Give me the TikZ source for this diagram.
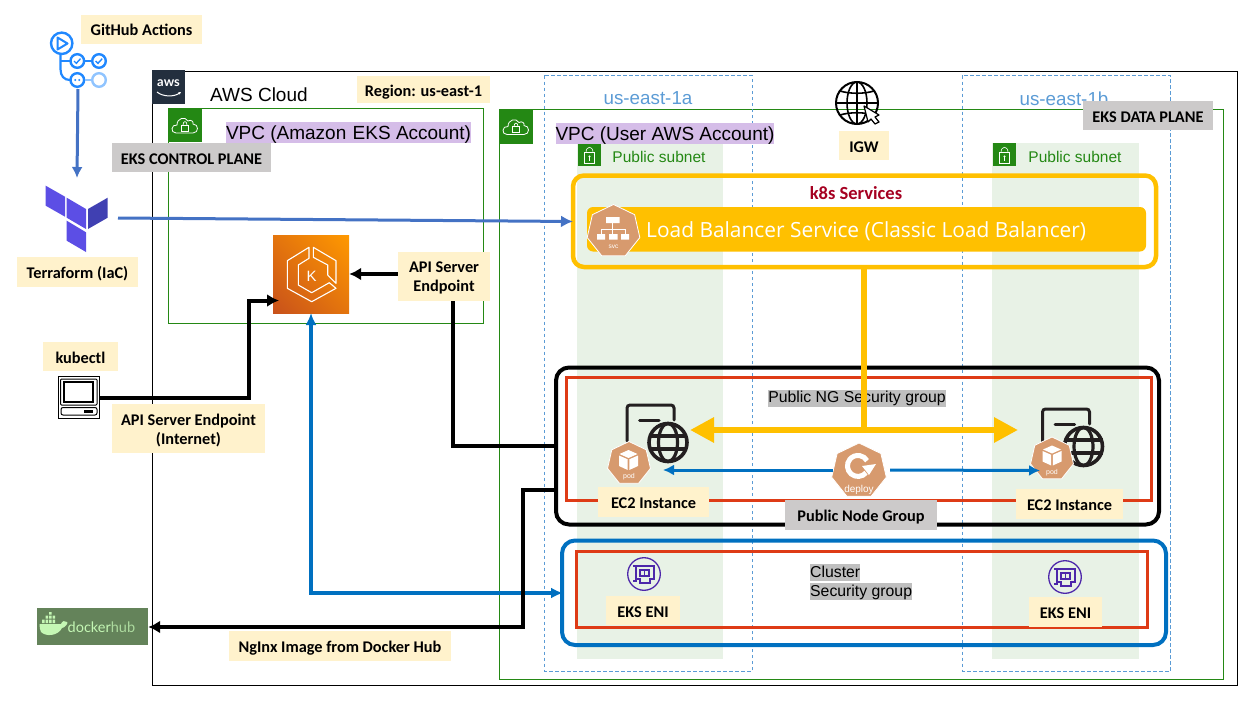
\documentclass[tikz,border=0pt]{standalone}
\usepackage{fontspec}
\setmainfont{Liberation Sans}
\newfontfamily\calfont{Carlito}
\newfontfamily\opfont{Open Sans}
\newfontfamily\latofont{Lato}
\usetikzlibrary{arrows.meta,shapes.geometric,shadings}
\definecolor{labcream}{HTML}{FFF2CC}
\definecolor{labgrey}{HTML}{CCCACA}
\definecolor{awsgreen}{HTML}{248814}
\definecolor{subfill}{HTML}{E8F2E6}
\definecolor{azblue}{HTML}{5B9BD5}
\definecolor{yel}{HTML}{FFC000}
\definecolor{mblue}{HTML}{0070C0}
\definecolor{tblue}{HTML}{4472C4}
\definecolor{redb}{HTML}{DE3B16}
\definecolor{k8}{HTML}{D79A6E}
\definecolor{vpcpurple}{HTML}{D5BDE8}
\definecolor{hlgrey}{HTML}{BFBFBF}
\definecolor{dark}{HTML}{231F20}
\definecolor{gha}{HTML}{2088FF}
\definecolor{eni}{HTML}{4D27AA}
\definecolor{dockbg}{HTML}{64835A}
\definecolor{dockfg}{HTML}{C4F7B4}
\definecolor{awsnavy}{HTML}{232F3E}
\definecolor{k8red}{HTML}{A50021}
\definecolor{tfa}{HTML}{5C4EE5}
\definecolor{tfb}{HTML}{4040B2}
\definecolor{eksll}{HTML}{C8511B}
\definecolor{eksur}{HTML}{FF9900}
\definecolor{eksmid}{HTML}{E4750D}
\tikzset{
  labbase/.style={fill=labcream,inner sep=0pt,align=center,font=\calfont\bfseries\fontsize{16.3}{19}\selectfont,text=black},
  lab/.style={labbase,text height=16.5pt,text depth=3.5pt},
  glab/.style={lab,fill=labgrey},
  vpcframe/.style={draw=awsgreen,line width=1pt},
  azbox/.style={draw=azblue,line width=.9pt,dash pattern=on 3.5pt off 2.5pt},
  az/.style={font=\fontsize{18.8}{21}\selectfont,text=azblue,inner sep=0pt},
  pubtxt/.style={font=\fontsize{15.5}{18}\selectfont,text=awsgreen,inner sep=0pt},
  vpctxt/.style={fill=vpcpurple,inner sep=0pt,font=\fontsize{19}{21}\selectfont,minimum height=21pt,text height=17.5pt,text depth=3.5pt},
  sgtxt/.style={fill=hlgrey,inner sep=0pt,font=\fontsize{15.8}{17}\selectfont,minimum height=17pt,text height=13pt,text depth=3.5pt},
  hept/.style={regular polygon,regular polygon sides=7,fill=k8,draw=white,line width=.8pt,inner sep=0pt},
  blk/.style={draw=black,line width=4pt,-{Latex[length=12pt,width=13pt]}},
  blu/.style={draw=mblue,line width=3.6pt},
  yl/.style={draw=yel,line width=6.5pt},
  cloudicon/.pic={
    \fill[awsgreen] (0,0) rectangle (34,34);
    \draw[white,line width=.8pt] (8,25) .. controls (2,25) and (3,16) .. (9,17)
      .. controls (9,10) and (17,8) .. (20,13) .. controls (23,11) and (26,14) .. (25,16)
      .. controls (31,16) and (31,25) .. (25,25) -- cycle;
    \draw[white,line width=.7pt] (13.5,17) rectangle (20.5,23);
    \draw[white,line width=.7pt] (15,17) .. controls (15,12.5) and (19,12.5) .. (19,17);
  },
  lockicon/.pic={
    \fill[awsgreen] (0,0) rectangle (23,23);
    \draw[white,line width=.6pt] (6.5,9.5) rectangle (16.5,20);
    \draw[white,line width=.6pt] (8,9.5) .. controls (8,2.5) and (15,2.5) .. (15,9.5);
    \fill[white] (11.5,13.5) circle (1.2);
    \draw[white,line width=.6pt] (11.5,14) -- (11.5,17.5);
  },
  insticon/.pic={
    \draw[dark,line width=3pt,rounded corners=3pt,line cap=round] (0,36) -- (0,0) -- (47,0) -- (47,15);
    \draw[dark,line width=3pt,line cap=round] (12.5,15) -- (32,15);
    \draw[dark,line width=3.6pt] (41,37.5) circle (19);
    \draw[dark,line width=3.2pt] (41,37.5) ellipse (9.5 and 19);
    \draw[dark,line width=3.2pt] (22,31) -- (60,31) (22,44) -- (60,44);
  },
  podcube/.pic={
    \fill[white] (0,-10.5) -- (9,-6.5) -- (0,-2.5) -- (-9,-6.5) -- cycle;
    \fill[white] (-9.5,-5) -- (-.8,-1.2) -- (-.8,9.5) -- (-9.5,5.5) -- cycle;
    \fill[white] (9.5,-5) -- (.8,-1.2) -- (.8,9.5) -- (9.5,5.5) -- cycle;
  },
  eniicon/.pic={
    \draw[eni,line width=1.3pt] (0,0) circle (16.3);
    \draw[eni,line width=1.1pt] (-11,-8) -- (-8,-8) -- (-8,7) -- (-11,7);
    \draw[eni,line width=1.1pt] (-8,-8) -- (10,-8) -- (10,5) -- (6,5) -- (6,9) -- (-4,9) -- (-4,5) -- (-8,5);
    \draw[eni,line width=1.1pt] (-4,-4) rectangle (5,2);
    \draw[eni,line width=1.1pt] (.5,-4) -- (.5,2);
  }
}
\begin{document}
\begin{tikzpicture}[x=1pt,y=-1pt]
\useasboundingbox (0,0) rectangle (1258,701);
% frames
\draw[black,line width=1pt] (152.5,71.5) rectangle (1237,685);
\fill[subfill] (577,143) rectangle (723,659);
\fill[subfill] (992,143) rectangle (1139,659);
\draw[vpcframe] (168.5,108.5) rectangle (483,323);
\draw[vpcframe] (499.5,109.5) rectangle (1223,679);
\draw[azbox] (544.5,75.5) rectangle (752,671);
\draw[azbox] (962.5,75.5) rectangle (1170.5,671);
% aws logo
\node[fill=awsnavy,minimum width=33pt,minimum height=34pt,inner sep=0pt] (awslogo) at (168.5,87) {};
\node[text=white,font=\latofont\bfseries\fontsize{13}{13}\selectfont,inner sep=0pt] (awstxt) at (168.5,83.5) {aws};
\draw[white,line width=1pt,-{Latex[length=2.5pt,width=3pt]}] (157,92) .. controls (163,97) and (174,97) .. (181,92);
\pic at (168,108) {cloudicon};
\pic at (499,109.5) {cloudicon};
\pic at (578,143) {lockicon};
\pic at (993,143) {lockicon};
% texts
\node[font=\fontsize{19}{21}\selectfont,inner sep=0pt,anchor=west] (awscloud) at (210,94.5) {AWS Cloud};
\node[vpctxt,minimum width=245pt] (vpca) at (348.5,132.5) {VPC (Amazon\,\,EKS Account)};
\node[vpctxt,minimum width=218pt] (vpcu) at (665,133) {VPC (User AWS Account)};
\node[az] (aza) at (648,98.5) {us-east-1a};
\node[az] (azb) at (1064,98.5) {us-east-1b};
\node[pubtxt] (suba) at (659,157) {Public subnet};
\node[pubtxt] (subb) at (1075,157) {Public subnet};
% IGW globe
\draw[black,line width=2pt] (857,103) circle (21);
\draw[black,line width=1.6pt] (857,103) ellipse (10 and 21);
\draw[black,line width=1.6pt] (857,82) -- (857,124) (836,103) -- (878,103);
\draw[black,line width=1.6pt] (840,91) .. controls (850,94) and (864,94) .. (874,91);
\draw[black,line width=1.6pt] (840,115) .. controls (850,112) and (864,112) .. (874,115);
\draw[black,fill=white,line width=1.2pt,line join=round] (864,106) -- (879,115) -- (875,117) -- (879,122) -- (875,124) -- (871,119) -- (868,122) -- cycle;
% boxes
\node[lab,minimum width=133pt,minimum height=27pt] (region) at (423.5,89.5) {Region: us-east-1};
\node[lab,minimum width=50pt,minimum height=29pt] (igw) at (864,145.5) {IGW};
% k8s services
\draw[yel,line width=4.5pt,rounded corners=11pt] (573,175.5) rectangle (1156,267);
\node[font=\calfont\bfseries\fontsize{18.5}{20}\selectfont,text=k8red,inner sep=0pt] (k8s) at (856,193) {k8s Services};
\fill[yel,rounded corners=6pt] (587,207) rectangle (1146,251.5);
\node[font=\opfont\fontsize{20.9}{24}\selectfont,text=white,inner sep=0pt,anchor=west] (lbtxt) at (646,231) {Load Balancer Service (Classic Load Balancer)};
\node[hept,minimum size=54pt] (svc) at (613.5,231.5) {};
\fill[white] (606,217) rectangle (619.5,223) (597,234) rectangle (605,239.5) (609,234) rectangle (617.5,239.5) (621,234) rectangle (629,239.5);
\draw[white,line width=1pt] (612.5,223) -- (612.5,234) (601,234) -- (601,229) -- (625,229) -- (625,234);
\node[text=white,font=\fontsize{6.5}{7}\selectfont,inner sep=0pt] (svct) at (613.5,247) {svc};
% node group boxes
\draw[black,line width=4pt,rounded corners=13pt] (556,367.5) rectangle (1159,524.5);
\draw[redb,line width=3pt] (566.5,377.5) rectangle (1151,500);
\draw[mblue,line width=4pt,rounded corners=13pt] (562,540.5) rectangle (1166,645);
\draw[redb,line width=3pt] (576,551.5) rectangle (1147,627);
% SG text
\node[sgtxt,minimum width=178pt] (sgpub) at (857,398) {Public NG Security group};
\node[sgtxt,anchor=west] (sgc1) at (810,572.5) {Cluster};
\node[sgtxt,anchor=west] (sgc2) at (810,591.5) {Security group};
% Named points
\coordinate (yt) at (864,267);
\coordinate (yj) at (864,430);
\coordinate (ya) at (690,430);
\coordinate (yb) at (1018,430);
% yellow connectors
\draw[yl] (yt) -- (yj);
\draw[yl,-{Triangle[length=24pt,width=24pt]}] (yj) -- (ya);
\draw[yl,-{Triangle[length=24pt,width=24pt]}] (yj) -- (yb);
% instances
\pic at (627,405) {insticon};
\pic at (1042.5,409) {insticon};
\node[hept,minimum size=44pt] (podl) at (629,463.5) {};
\pic at (628.5,460.5) {podcube};
\node[text=white,font=\fontsize{7}{8}\selectfont,inner sep=0pt] (podlt) at (629,477) {pod};
\node[hept,minimum size=44pt] (podr) at (1052,459) {};
\pic at (1052,456) {podcube};
\node[text=white,font=\fontsize{7}{8}\selectfont,inner sep=0pt] (podrt) at (1052,472.5) {pod};
\node[hept,minimum size=56pt] (deploy) at (859,471) {};
\draw[white,line width=5pt] (866,472.7) arc (40:330:10.5);
\fill[white] (862,466) -- (876,464) -- (869,475) -- cycle;
\node[text=white,font=\fontsize{10}{11}\selectfont,inner sep=0pt] (deployt) at (859,489.5) {deploy};
\coordinate (dl) at (833,470);
\coordinate (dr) at (890,470);
\coordinate (dla) at (663,470);
\coordinate (dra) at (1040,470.5);
\draw[mblue,line width=3pt,-{Latex[length=11pt,width=11pt]}] (dl) -- (dla);
\draw[mblue,line width=3pt,-{Latex[length=11pt,width=11pt]}] (dr) -- (dra);
% ENI
\pic at (644,574) {eniicon};
\pic at (1065,577) {eniicon};
% EKS icon
\shade[lower left=eksll,upper right=eksur,upper left=eksmid,lower right=eksmid] (273,235) rectangle (349,313);
\node[minimum width=76pt,minimum height=78pt,inner sep=0pt] (eks) at (311,274) {};
\draw[white,line width=1.1pt,line join=round] (309,247.3) -- (287.3,260.7) -- (287.3,288.3) -- (311.7,301.7) -- (336,288.3) -- (329.3,282.7) -- (311.7,292.7) -- (298.3,285) -- (298.3,265) -- (309,258.3) -- cycle;
\draw[white,line width=1.1pt,line join=round] (313.3,247.3) -- (336,260.7) -- (336,283.3) -- (327.7,275) -- (327.7,265) -- (313.3,257.3) -- cycle;
\node[text=white,font=\fontsize{15}{16}\selectfont,inner sep=0pt] (kk) at (311.5,276) {K};
% Terraform
\fill[tfa] (45.7,185.7) -- (65,196.7) -- (65,216.7) -- (45.7,205.7) -- cycle;
\fill[tfa] (66.7,197.7) -- (86,209) -- (86,229) -- (66.7,217.7) -- cycle;
\fill[tfb] (88,209) -- (107.7,197.7) -- (107.7,217.7) -- (88,229) -- cycle;
\fill[tfa] (66.7,220.7) -- (86,232.3) -- (86,252) -- (66.7,240.7) -- cycle;
\coordinate (tfout) at (118,218);
\coordinate (gaout) at (78,89);
\coordinate (tfin) at (77,178);
\coordinate (lbin) at (573,221.5);
% GitHub actions
\draw[gha,line width=2.4pt] (61.7,43.3) circle (10.7);
\draw[gha,line width=2pt,line join=round] (57.5,37.5) -- (67.5,43.5) -- (57.5,49.5) -- cycle;
\draw[gha,line width=2.2pt] (60.5,54) -- (60.5,69) .. controls (60.5,76) and (64,80) .. (70,80);
\draw[gha,line width=2.2pt] (60.5,61) -- (70,61) (84.5,61) -- (92,61);
\draw[gha,line width=2.4pt] (77.3,61) circle (6.8);
\draw[gha,line width=2.4pt] (99,61) circle (6.8);
\draw[gha,line width=2.4pt] (77.3,80) circle (6.8);
\draw[gha!50,line width=2.4pt] (99,80) circle (6.8);
\draw[gha!50,line width=2.2pt] (84.5,80) -- (92,80);
\draw[gha,line width=1.4pt] (74,61) -- (76.3,63.3) -- (80.5,58.7) (95.7,61) -- (98,63.3) -- (102.2,58.7);
\fill[gha] (75.3,80) circle (1.1) (79.3,80) circle (1.1);
\draw[tblue,line width=3pt,-{Latex[length=11pt,width=11pt]}] (gaout) -- (tfin);
\draw[tblue,line width=3pt,-{Latex[length=12pt,width=12pt]}] (tfout) -- (lbin);
% monitor
\node[draw=black,fill=white,line width=1pt,minimum width=41pt,minimum height=42pt,inner sep=0pt] (kube) at (78.5,397) {};
\draw[black,line width=1pt,rounded corners=1pt] (60.5,379) rectangle (97,405);
\draw[black,line width=1.5pt] (64,382) rectangle (93,402);
\draw[black,line width=1pt,rounded corners=2pt] (61,407.5) rectangle (97,415);
\fill[black] (84,410) rectangle (93,412.5);
% docker
\node[fill=dockbg,minimum width=111pt,minimum height=37pt,inner sep=0pt] (docker) at (92.5,626.5) {};
\fill[dockfg] (39.5,624) -- (61,624) .. controls (62,621) and (65,620) .. (67,622) .. controls (69,622) and (65,628) .. (62,628) .. controls (58,636) and (46,637) .. (41,632) .. controls (40,630) and (39.5,627) .. (39.5,624) -- cycle;
\fill[dockfg] (42,619.5) rectangle (44.5,623) (45.5,619.5) rectangle (48,623) (49,619.5) rectangle (51.5,623) (52.5,619.5) rectangle (55,623) (45.5,615.5) rectangle (48,618.5) (49,615.5) rectangle (51.5,618.5) (52.5,615.5) rectangle (55,618.5) (49,612) rectangle (51.5,614.5);
\node[font=\latofont\fontsize{14.5}{15}\selectfont,inner sep=0pt,anchor=west] (dockt) at (67.5,627) {\textcolor{dockfg}{docker}\textcolor{dockfg!75!dockbg}{hub}};
% black connectors
\coordinate (kb) at (99,398);
\coordinate (kc) at (249,398);
\coordinate (kd) at (249,300.5);
\coordinate (ke) at (279,300.5);
\draw[blk,line join=miter] (kb) -- (kc) -- (kd) -- (ke);
\coordinate (ag) at (453,446);
\coordinate (ah) at (556,446);
\coordinate (dh) at (556,489.5);
\coordinate (di) at (523,489.5);
\coordinate (dj) at (523,627);
% blue eks connector
\coordinate (bt) at (311,313);
\coordinate (bc) at (311,593);
\coordinate (bd) at (563,593);
\draw[blu,{Latex[length=12pt,width=11pt]}-{Latex[length=12pt,width=11pt]}] (bt) -- (bc) -- (bd);
% labels
\node[lab,minimum width=121pt,minimum height=29pt] (ghl) at (141.5,29.5) {GitHub Actions};
\node[glab,minimum width=159pt,minimum height=29pt] (cpl) at (191.5,157.5) {EKS CONTROL PLANE};
\node[glab,minimum width=130pt,minimum height=29pt] (dpl) at (1148,115.5) {EKS DATA PLANE};
\node[lab,minimum width=121pt,minimum height=30pt] (tfl) at (77.5,272) {Terraform (IaC)};
\node[lab,minimum width=75pt,minimum height=29pt] (kul) at (80.5,356.5) {kubectl};
\node[labbase,minimum width=153pt,minimum height=49pt] (apil) at (188.5,428.5) {\rule{0pt}{15pt}API Server Endpoint\\(Internet)};
\node[labbase,minimum width=92pt,minimum height=49pt] (ape) at (444,276.5) {\rule{0pt}{14pt}API Server\\Endpoint};
\draw[blk] (ape.west |- 0,274) -- (eks.east |- 0,274);
\draw[draw=black,line width=3.6pt] (ag |- ape.south) -- (ag) -- (ah);
\draw[blk,line join=miter] (dh) -- (di) -- (dj) -- (docker.east |- dj);
\node[lab,minimum width=111pt,minimum height=30pt] (ec2l) at (653.5,502) {EC2 Instance};
\node[lab,minimum width=107pt,minimum height=30pt] (ec2r) at (1069.5,504) {EC2 Instance};
\node[glab,minimum width=152pt,minimum height=30pt] (png) at (861,515) {Public Node Group};
\node[lab,minimum width=74pt,minimum height=29pt] (enil) at (643,610.5) {EKS ENI};
\node[lab,minimum width=73pt,minimum height=30pt] (enir) at (1065.5,612) {EKS ENI};
\node[lab,minimum width=222pt,minimum height=30pt] (ngl) at (340,646) {NgInx Image from Docker Hub};
\end{tikzpicture}
\end{document}
